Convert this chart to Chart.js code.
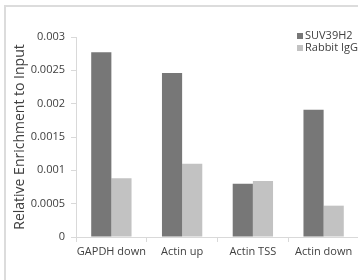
<!DOCTYPE html>
<html>
<head>
<meta charset="utf-8">
<script src="https://cdn.jsdelivr.net/npm/chart.js@4.4.0/dist/chart.umd.min.js"></script>
<style>
  html, body { margin: 0; padding: 0; background: #fff; overflow: hidden; }
  body { width: 358px; height: 280px; position: relative; }
  #frame { position: absolute; left: 4px; top: 5px; width: 420px; height: 320px; border: 2px solid #dcdcdc; box-sizing: border-box; }
  #wrap { position: absolute; left: 0; top: 0; width: 362px; height: 280px; }
</style>
</head>
<body>
<div id="frame"></div>
<div id="wrap"><canvas id="grafico"></canvas></div>
<script>
const categorias = ["GAPDH down", "Actin up", "Actin TSS", "Actin down"];
const suv39h2 = [0.00277, 0.00246, 0.00080, 0.00191];
const rabbitIgG = [0.00088, 0.00110, 0.00084, 0.00047];
const ticksY = [0, 0.0005, 0.001, 0.0015, 0.002, 0.0025, 0.003];

const corTexto = "#404040";
const fonte = "'Open Sans', sans-serif";

// legenda desenhada dentro da área do gráfico
const legendaPlugin = {
  id: "legendaInterna",
  afterDraw(chart) {
    const ctx = chart.ctx;
    ctx.save();
    ctx.font = "11px " + fonte;
    ctx.textBaseline = "middle";
    chart.data.datasets.forEach((ds, i) => {
      const y = 36 + i * 12;
      ctx.fillStyle = ds.backgroundColor;
      ctx.fillRect(297, y - 3, 6, 6);
      ctx.fillStyle = corTexto;
      ctx.fillText(ds.label, 305, y);
    });
    ctx.restore();
  },
};

new Chart(document.getElementById("grafico"), {
  type: "bar",
  data: {
    labels: categorias,
    datasets: [
      { label: "SUV39H2", data: suv39h2, backgroundColor: "#777777" },
      { label: "Rabbit IgG", data: rabbitIgG, backgroundColor: "#c2c2c2" },
    ],
  },
  options: {
    responsive: true,
    maintainAspectRatio: false,
    animation: false,
    layout: { padding: { top: 37, right: 3, bottom: 0, left: 0 } },
    datasets: { bar: { categoryPercentage: 0.57, barPercentage: 1 } },
    plugins: { legend: { display: false }, tooltip: { enabled: false } },
    scales: {
      x: {
        grid: { drawOnChartArea: false, tickLength: 5, color: "#d9d9d9" },
        border: { color: "#d9d9d9" },
        ticks: { color: corTexto, font: { family: fonte, size: 11 }, padding: 3, maxRotation: 0, autoSkip: false },
        afterFit: (s) => { s.height = 43; },
      },
      y: {
        min: 0,
        max: 0.003,
        afterBuildTicks: (s) => { s.ticks = ticksY.map((v) => ({ value: v })); },
        grid: { drawOnChartArea: false, tickLength: 5, color: "#d9d9d9" },
        border: { color: "#d9d9d9" },
        ticks: {
          color: corTexto,
          font: { family: fonte, size: 11 },
          padding: 6,
          callback: (v) => String(v),
        },
        title: {
          display: true,
          text: "Relative Enrichment to Input",
          color: corTexto,
          font: { family: fonte, size: 14 },
          padding: { top: 12, bottom: 0 },
        },
        afterFit: (s) => { s.width = 76; },
      },
    },
  },
  plugins: [legendaPlugin],
});
</script>
</body>
</html>
